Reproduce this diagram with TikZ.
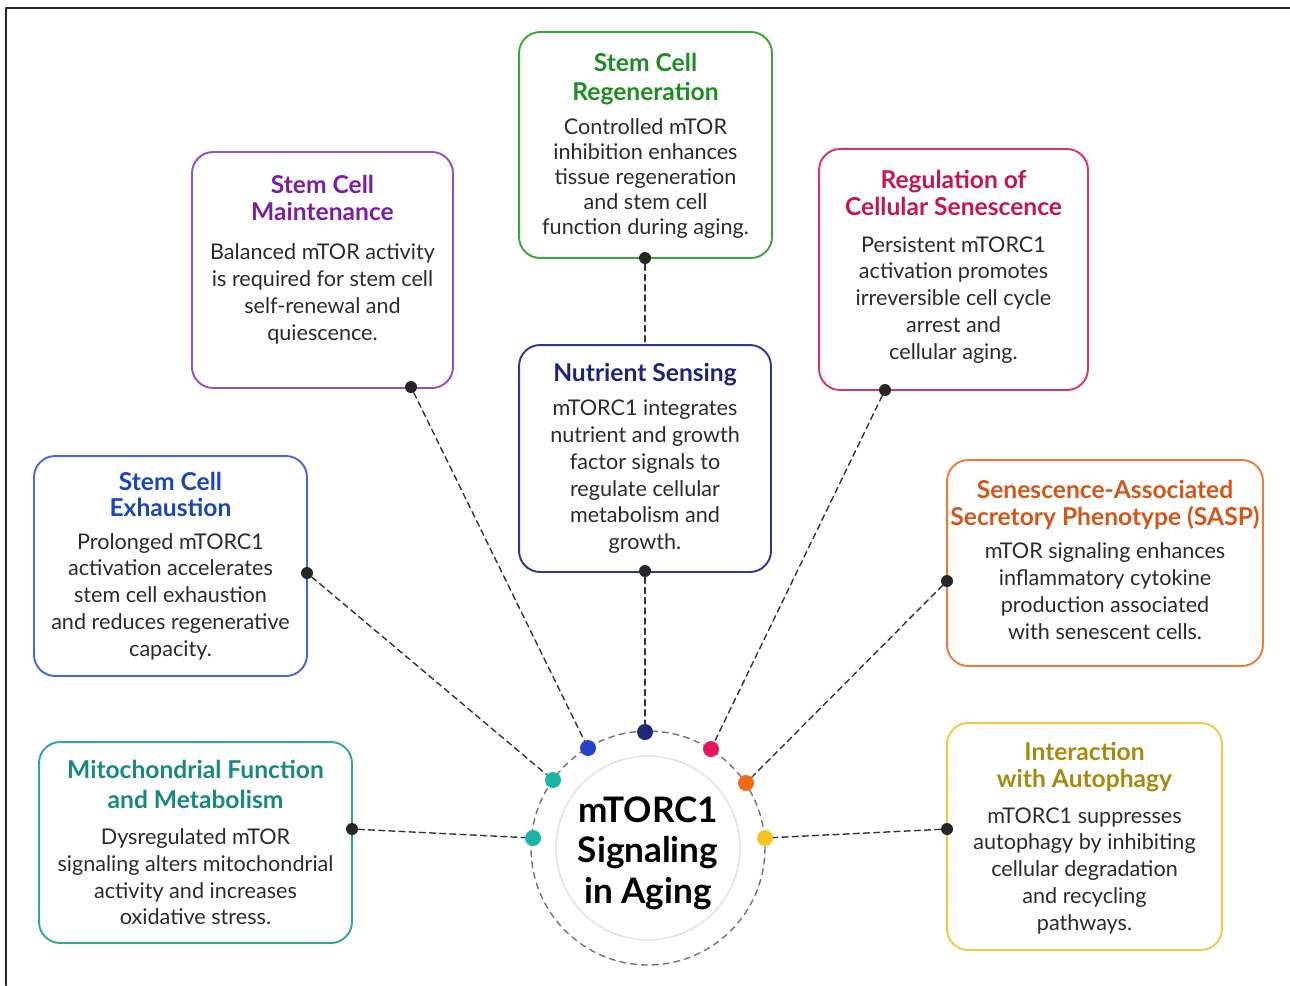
\documentclass[tikz,border=0pt]{standalone}
\usepackage{fontspec}
\setmainfont{Lato}
\usepackage{tikz}
\usetikzlibrary{positioning}
\usetikzlibrary{calc}

\definecolor{grnB}{HTML}{3DA63A}\definecolor{grnT}{HTML}{1E8C22}
\definecolor{purB}{HTML}{9A4DBE}\definecolor{purT}{HTML}{7A1FA0}
\definecolor{crmB}{HTML}{D93462}\definecolor{crmT}{HTML}{C4164F}
\definecolor{navB}{HTML}{2F3A86}\definecolor{navT}{HTML}{1C2478}
\definecolor{bluB}{HTML}{4468DC}\definecolor{bluT}{HTML}{1A46B6}
\definecolor{orgB}{HTML}{EA7A3E}\definecolor{orgT}{HTML}{D2561A}
\definecolor{tealB}{HTML}{2FA79C}\definecolor{tealT}{HTML}{17897F}
\definecolor{gldB}{HTML}{F2C840}\definecolor{gldT}{HTML}{A8890E}
\definecolor{tealD}{HTML}{1DB3A8}\definecolor{bluD}{HTML}{2443C8}
\definecolor{navD}{HTML}{1E2A78}\definecolor{crmD}{HTML}{E8175D}
\definecolor{orgD}{HTML}{EF6A10}\definecolor{gldD}{HTML}{F6C322}
\definecolor{bodyc}{HTML}{2B2B2B}

\newcommand{\ttl}[2]{{\color{#1}\bfseries\fontsize{14}{16}\selectfont #2}}

\begin{document}
\begin{tikzpicture}[x=0.02cm,y=-0.02cm,line cap=round,line join=round,
	panel/.style={draw=#1, line width=1.1pt, rounded corners=12pt, fill=white, inner sep=0pt},
	ptext/.style={align=center, text=bodyc, inner sep=0pt, font=\fontsize{12.3}{15.3}\selectfont},
	bdot/.style={circle, fill=black!85, inner sep=0pt, minimum size=0.24cm},
	cdot/.style={circle, fill=#1, inner sep=0pt, minimum size=0.32cm},
	conn/.style={black!80, line width=0.8pt, dash pattern=on 3.4pt off 2.4pt}]

	\useasboundingbox (0,0) rectangle (1290,985);
	\draw [line width=1.4pt, black!85] (6,985) -- (6,8) -- (1290,8);

	% hub
	\node [circle, draw=black!12, line width=0.8pt, minimum size=3.68cm] (hub) at (648,848) {};
	\node [circle, draw=black!55, line width=0.8pt, dash pattern=on 3.4pt off 2.8pt,
		minimum size=4.68cm] (ring) at (hub) {};
	\node [align=center, font=\bfseries\fontsize{20}{23.2}\selectfont, yshift=-3pt] (hubT) at (hub)
		{mTORC1\\Signaling\\in Aging};

	% panels
	\node [panel=grnB, minimum width=5.06cm, minimum height=4.52cm] (regen) at (645.5,145) {};
	\node [ptext, font=\fontsize{12.3}{14.3}\selectfont, yshift=-0.5pt] (regenT) at (regen)
		{\ttl{grnT}{Stem Cell}\\[2pt]\ttl{grnT}{Regeneration}\\[5pt]Controlled mTOR\\inhibition enhances\\tissue regeneration\\and stem cell\\function during aging.};
	\node [panel=purB, minimum width=5.22cm, minimum height=4.72cm] (maint) at (322.5,270) {};
	\node [ptext, yshift=6pt] (maintT) at (maint)
		{\ttl{purT}{Stem Cell}\\\ttl{purT}{Maintenance}\\[7pt]Balanced mTOR activity\\is required for stem cell\\self-renewal and\\quiescence.};
	\node [panel=crmB, minimum width=5.38cm, minimum height=4.82cm] (senes) at (953.5,269.5) {};
	\node [ptext, yshift=1.5pt] (senesT) at (senes)
		{\ttl{crmT}{Regulation of}\\\ttl{crmT}{Cellular Senescence}\\[5.5pt]Persistent mTORC1\\activation promotes\\irreversible cell cycle\\arrest and\\cellular aging.};
	\node [panel=navB, minimum width=5.04cm, minimum height=4.54cm] (nutr) at (645,458.5) {};
	\node [ptext] (nutrT) at (nutr)
		{\ttl{navT}{Nutrient Sensing}\\[4pt]mTORC1 integrates\\nutrient and growth\\factor signals to\\regulate cellular\\metabolism and\\growth.};
	\node [panel=bluB, minimum width=5.46cm, minimum height=4.40cm] (exh) at (170.5,566) {};
	\node [ptext] (exhT) at (exh)
		{\ttl{bluT}{Stem Cell}\\\ttl{bluT}{Exhaustion}\\[3pt]Prolonged mTORC1\\activation accelerates\\stem cell exhaustion\\and reduces regenerative\\capacity.};
	\node [panel=orgB, minimum width=6.32cm, minimum height=4.12cm] (sasp) at (1105,563) {};
	\node [ptext, yshift=1.7pt] (saspT) at (sasp)
		{\ttl{orgT}{Senescence-Associated}\\\ttl{orgT}{Secretory Phenotype (SASP)}\\[3.5pt]mTOR signaling enhances\\inflammatory cytokine\\production associated\\with senescent cells.};
	\node [panel=tealB, minimum width=6.26cm, minimum height=4.02cm] (mito) at (195.5,842.5) {};
	\node [ptext] (mitoT) at (mito)
		{\ttl{tealT}{Mitochondrial Function}\\[2pt]\ttl{tealT}{and Metabolism}\\[5pt]Dysregulated mTOR\\signaling alters mitochondrial\\activity and increases\\oxidative stress.};
	\node [panel=gldB, minimum width=5.50cm, minimum height=4.54cm] (auto) at (1084.5,836.5) {};
	\node [ptext, yshift=-1pt] (autoT) at (auto)
		{\ttl{gldT}{Interaction}\\\ttl{gldT}{with Autophagy}\\[5pt]mTORC1 suppresses\\autophagy by inhibiting\\cellular degradation\\and recycling\\pathways.};

	% anchor dots on panels
	\node [bdot] (regenP) at (645,258) {};
	\node [bdot] (nutrP) at (645,571) {};
	\node [bdot] (maintP) at (411,387) {};
	\node [bdot] (senesP) at (885,390) {};
	\node [bdot] (exhP) at (307,573) {};
	\node [bdot] (saspP) at (947,581) {};
	\node [bdot] (mitoP) at (352,829) {};
	\node [bdot] (autoP) at (947,829) {};

	% dots on ring
	\node [cdot=tealD] (hubE) at (553,780) {};
	\node [cdot=bluD] (hubM) at (588,748) {};
	\node [cdot=navD] (hubN) at (645,732) {};
	\node [cdot=crmD] (hubS) at (711,749) {};
	\node [cdot=orgD] (hubA) at (746,783) {};
	\node [cdot=gldD] (hubP) at (765,838) {};
	\node [cdot=tealD] (hubF) at (533,838) {};

	\draw [conn] (regenP) -- (nutr.north);
	\draw [conn] (nutrP) -- (hubN);
	\draw [conn] (maintP) -- (hubM);
	\draw [conn] (senesP) -- (hubS);
	\draw [conn] (exhP) -- (hubE);
	\draw [conn] (saspP) -- (hubA);
	\draw [conn] (mitoP) -- (hubF);
	\draw [conn] (autoP) -- (hubP);
\end{tikzpicture}
\end{document}
